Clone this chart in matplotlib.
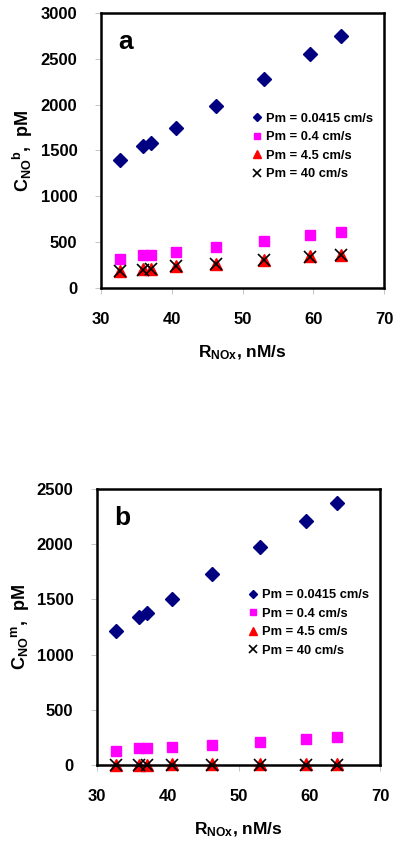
import matplotlib
matplotlib.use('Agg')

import matplotlib.pyplot as plt
import numpy as np

plt.rcParams['font.family'] = ['Liberation Sans', 'DejaVu Sans']
plt.rcParams['font.weight'] = 'bold'
plt.rcParams['axes.labelweight'] = 'bold'
plt.rcParams['mathtext.fontset'] = 'custom'
plt.rcParams['mathtext.rm'] = 'Liberation Sans:bold'
plt.rcParams['mathtext.bf'] = 'Liberation Sans:bold'
plt.rcParams['mathtext.it'] = 'Liberation Sans:bold'
plt.rcParams['mathtext.default'] = 'bf'

# NOx release rate, nM/s
r_nox = [32.7, 36.0, 37.1, 40.6, 46.3, 53.1, 59.6, 63.9]

# panel a: C_NO^b, pM
a_p00415 = [1400, 1550, 1580, 1745, 1990, 2275, 2555, 2745]
a_p04 = [320, 355, 355, 392, 452, 515, 578, 612]
a_p45 = [185, 205, 212, 240, 260, 305, 345, 365]
a_p40 = [182, 200, 210, 238, 258, 300, 340, 362]

# panel b: C_NO^m, pM
b_p00415 = [1210, 1340, 1375, 1505, 1727, 1978, 2213, 2376]
b_p04 = [130, 150, 150, 160, 185, 211, 233, 251]
b_p45 = [3, 4, 4, 5, 8, 7, 8, 9]
b_p40 = [1, 1, 1, 2, 3, 2, 3, 3]

legend_labels = ["Pm = 0.0415 cm/s", "Pm = 0.4 cm/s", "Pm = 4.5 cm/s", "Pm = 40 cm/s"]


def draw_panel(ax, series, ymax, ystep, letter, ylabel):
    s1, s2, s3, s4 = series
    ax.plot(r_nox, s1, 'D', color='#000080', markersize=7, label=legend_labels[0], clip_on=False)
    ax.plot(r_nox, s2, 's', color='#ff00ff', markersize=7.5, label=legend_labels[1], clip_on=False)
    ax.plot(r_nox, s3, '^', color='#ff0000', markersize=8, label=legend_labels[2], clip_on=False)
    ax.plot(r_nox, s4, 'x', color='black', markersize=8.5, markeredgewidth=1.2,
            label=legend_labels[3], clip_on=False)

    ax.set_xlim(30, 70)
    ax.set_ylim(0, ymax)
    ax.set_xticks(np.arange(30, 71, 10))
    ax.set_yticks(np.arange(0, ymax + 1, ystep))
    for sp in ax.spines.values():
        sp.set_linewidth(1.8)
    ax.tick_params(direction='out', length=4, width=0.6, color='#bbbbbb', labelsize=12)
    ax.tick_params(axis='x', pad=13)
    ax.tick_params(axis='y', pad=13)

    ax.set_xlabel(r"R$_{NOx}$, nM/s", fontsize=12.5, labelpad=12)
    ax.set_ylabel(ylabel, fontsize=13, labelpad=4)
    ax.text(0.06, 0.895, letter, transform=ax.transAxes, fontsize=19,
            fontweight='bold', va='center', ha='left')

    ax.legend(loc='upper left', bbox_to_anchor=(0.5, 0.67), frameon=False,
              fontsize=9.3, handlelength=0.8, handletextpad=0.3, labelspacing=0.5,
              markerscale=0.65, borderpad=0.2)


fig = plt.figure(figsize=(4, 8.44), dpi=100)
ax1 = fig.add_axes([0.2525, 0.6588, 0.7075, 0.3258])
ax2 = fig.add_axes([0.2425, 0.0936, 0.7075, 0.327])

draw_panel(ax1, (a_p00415, a_p04, a_p45, a_p40), 3000, 500, "a",
           r"C$_{NO}{}^{b}$,  pM")
draw_panel(ax2, (b_p00415, b_p04, b_p45, b_p40), 2500, 500, "b",
           r"C$_{NO}{}^{m}$,  pM")

plt.savefig("out.png", dpi=100)
